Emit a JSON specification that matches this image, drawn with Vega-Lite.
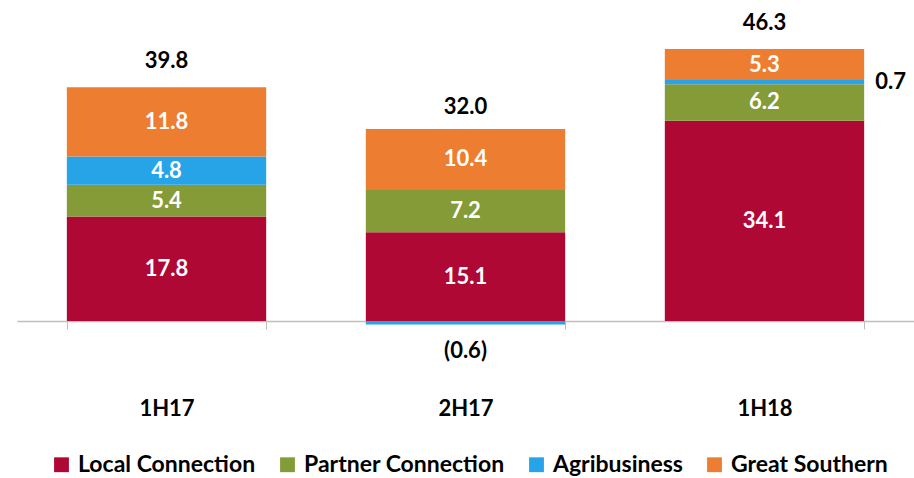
{
  "$schema": "https://vega.github.io/schema/vega-lite/v6.json",
  "width": 897,
  "height": 321,
  "autosize": "none",
  "padding": {"left": 17, "top": 0, "right": 0, "bottom": 157},
  "config": {"view": {"stroke": null}, "font": "Lato"},
  "datasets": {
    "segments": [
      {"period": "1H17", "series": "Local Connection", "value": 17.8},
      {"period": "1H17", "series": "Partner Connection", "value": 5.4},
      {"period": "1H17", "series": "Agribusiness", "value": 4.8},
      {"period": "1H17", "series": "Great Southern", "value": 11.8},
      {"period": "2H17", "series": "Local Connection", "value": 15.1},
      {"period": "2H17", "series": "Partner Connection", "value": 7.2},
      {"period": "2H17", "series": "Agribusiness", "value": -0.6},
      {"period": "2H17", "series": "Great Southern", "value": 10.4},
      {"period": "1H18", "series": "Local Connection", "value": 34.1},
      {"period": "1H18", "series": "Partner Connection", "value": 6.2},
      {"period": "1H18", "series": "Agribusiness", "value": 0.7},
      {"period": "1H18", "series": "Great Southern", "value": 5.3}
    ],
    "totals": [
      {"period": "1H17", "total": 39.8},
      {"period": "2H17", "total": 32.0},
      {"period": "1H18", "total": 46.3}
    ]
  },
  "layer": [
    {
      "data": {"name": "segments"},
      "transform": [
        {"calculate": "indexof(['Local Connection','Partner Connection','Agribusiness','Great Southern'], datum.series)", "as": "ord"},
        {"stack": "value", "groupby": ["period"], "sort": [{"field": "ord", "order": "ascending"}], "as": ["y0", "y1"]},
        {"calculate": "(datum.y0 + datum.y1) / 2", "as": "mid"},
        {"calculate": "datum.value < 0 ? '(' + format(-datum.value, '.1f') + ')' : format(datum.value, '.1f')", "as": "label"}
      ],
      "layer": [
        {
          "mark": {"type": "bar"},
          "encoding": {
            "x": {
              "field": "period", "type": "nominal", "sort": ["1H17", "2H17", "1H18"],
              "scale": {"paddingInner": 0.3333, "paddingOuter": 0.1667},
              "axis": {
                "title": null, "labelAngle": 0, "labelFontSize": 22, "labelFontWeight": "bold",
                "labelColor": "#000000", "domainColor": "#BFBFBF", "domainWidth": 1.5,
                "tickColor": "#BFBFBF", "tickSize": 8, "tickBand": "extent", "labelPadding": 69, "grid": false
              }
            },
            "y": {"field": "y0", "type": "quantitative", "scale": {"domain": [0, 54.638], "nice": false, "zero": false}, "axis": null},
            "y2": {"field": "y1"},
            "color": {
              "field": "series", "type": "nominal",
              "scale": {
                "domain": ["Local Connection", "Partner Connection", "Agribusiness", "Great Southern"],
                "range": ["#B00835", "#849B38", "#27A4E8", "#ED7D31"]
              },
              "legend": {
                "orient": "none", "legendX": 33, "legendY": 453, "direction": "horizontal", "title": null,
                "symbolType": "square", "symbolSize": 220, "symbolStrokeWidth": 0,
                "labelFontSize": 23, "labelFontWeight": "bold", "labelColor": "#000000", "labelOffset": 5,
                "columnPadding": 20, "labelLimit": 0
              }
            }
          }
        },
        {
          "transform": [{"filter": "abs(datum.value) >= 1"}],
          "mark": {"type": "text", "color": "#FFFFFF", "fontSize": 22, "fontWeight": "bold", "baseline": "middle"},
          "encoding": {
            "x": {"field": "period", "type": "nominal", "sort": ["1H17", "2H17", "1H18"]},
            "y": {"field": "mid", "type": "quantitative"},
            "text": {"field": "label"}
          }
        },
        {
          "transform": [{"filter": "datum.value > 0 && datum.value < 1"}],
          "mark": {"type": "text", "color": "#000000", "fontSize": 22, "fontWeight": "bold", "baseline": "middle", "align": "left", "dx": 11},
          "encoding": {
            "x": {"field": "period", "type": "nominal", "sort": ["1H17", "2H17", "1H18"], "bandPosition": 1},
            "y": {"field": "mid", "type": "quantitative"},
            "text": {"field": "label"}
          }
        },
        {
          "transform": [{"filter": "datum.value < 0"}],
          "mark": {"type": "text", "color": "#000000", "fontSize": 22, "fontWeight": "bold", "baseline": "middle", "dy": 26},
          "encoding": {
            "x": {"field": "period", "type": "nominal", "sort": ["1H17", "2H17", "1H18"]},
            "y": {"field": "y1", "type": "quantitative"},
            "text": {"field": "label"}
          }
        }
      ]
    },
    {
      "data": {"name": "totals"},
      "mark": {"type": "text", "color": "#000000", "fontSize": 22, "fontWeight": "bold", "baseline": "middle", "dy": -26},
      "encoding": {
        "x": {"field": "period", "type": "nominal", "sort": ["1H17", "2H17", "1H18"]},
        "y": {"field": "total", "type": "quantitative"},
        "text": {"field": "total", "type": "quantitative", "format": ".1f"}
      }
    }
  ]
}
